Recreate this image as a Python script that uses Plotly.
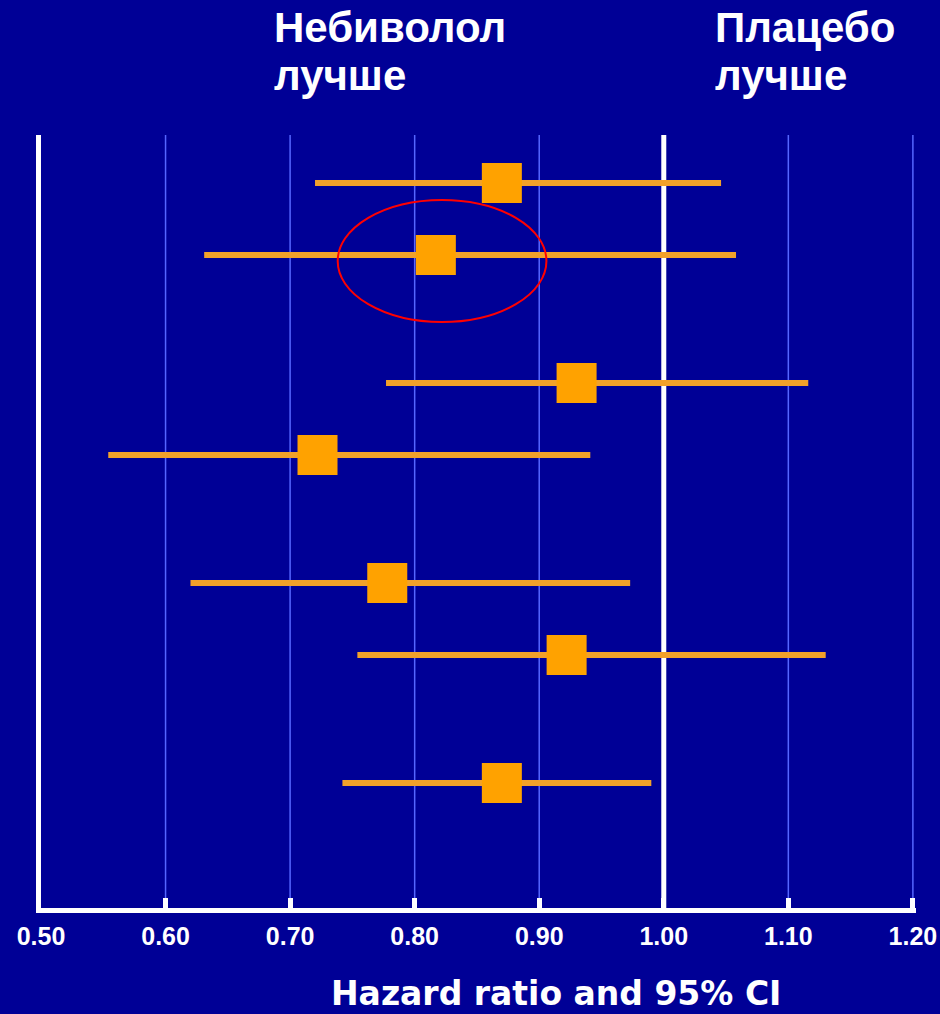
import plotly.graph_objects as go

# Subgroup hazard ratios with 95% confidence intervals
group = [0, 0, 1, 1, 2, 2, 3]      # subgroup block (pairs, then overall)
member = [0, 1, 0, 1, 0, 1, 0]     # row within the block
hr_est = [0.870, 0.817, 0.930, 0.722, 0.778, 0.922, 0.870]
ci_low = [0.720, 0.631, 0.777, 0.554, 0.620, 0.754, 0.742]
ci_high = [1.046, 1.058, 1.116, 0.941, 0.973, 1.130, 0.990]
highlight_row = 1
no_effect = 1.0

tick_vals = [0.5, 0.6, 0.7, 0.8, 0.9, 1.0, 1.1, 1.2]
tick_text = ["0.50", "0.60", "0.70", "0.80", "0.90", "1.00", "1.10", "1.20"]

BLOCK_GAP = 2.0
ROW_GAP = 0.72
row_y = [g * BLOCK_GAP + m * ROW_GAP for g, m in zip(group, member)]

BG = "#000096"
ORANGE_LINE = "#F2A12A"
ORANGE_BOX = "#FFA200"
GRID = "#5566FF"

# confidence interval segments, separated by gaps
seg_x, seg_y = [], []
for lo, hi, y in zip(ci_low, ci_high, row_y):
    seg_x += [lo, hi, None]
    seg_y += [y, y, None]

fig = go.Figure()

# thin vertical guides at each tick (the no-effect line is drawn separately)
for v in tick_vals[1:]:
    if v == no_effect:
        continue
    fig.add_shape(type="line", xref="x", yref="paper", x0=v, x1=v, y0=0, y1=1,
                  line=dict(color=GRID, width=1.5), layer="below")

# line of no effect
fig.add_shape(type="line", xref="x", yref="paper", x0=no_effect, x1=no_effect, y0=0, y1=1,
              line=dict(color="white", width=5), layer="below")

fig.add_trace(go.Scatter(
    x=seg_x, y=seg_y, mode="lines",
    line=dict(color=ORANGE_LINE, width=6),
    hoverinfo="skip", showlegend=False,
))
fig.add_trace(go.Scatter(
    x=hr_est, y=row_y, mode="markers",
    marker=dict(symbol="square", size=40, color=ORANGE_BOX, line=dict(width=0)),
    showlegend=False,
))

# highlight ring around the selected subgroup
cx = hr_est[highlight_row] + 0.005
cy = row_y[highlight_row] + 0.06
fig.add_shape(type="circle", xref="x", yref="y",
              x0=cx - 0.0838, x1=cx + 0.0838, y0=cy - 0.61, y1=cy + 0.61,
              line=dict(color="#FF0000", width=2), layer="above")

bold = dict(family="Liberation Sans, Arial, sans-serif", color="white", size=42, weight="bold")
labels = [
    (0.2637, 1.1395, "Небиволол"),
    (0.2637, 1.0765, "лучше"),
    (0.7675, 1.1395, "Плацебо"),
    (0.7675, 1.0765, "лучше"),
]
for x, y, t in labels:
    fig.add_annotation(x=x, y=y, xref="paper", yref="paper", text=t, showarrow=False,
                       xanchor="left", yanchor="middle", font=bold)

fig.add_annotation(x=0.588, y=-0.110, xref="paper", yref="paper",
                   text="Hazard ratio and 95% CI", showarrow=False,
                   xanchor="center", yanchor="middle",
                   font=dict(family="DejaVu Sans, sans-serif", size=33, color="white", weight="bold"))

fig.update_layout(
    width=940, height=1014,
    margin=dict(l=41, r=24, t=135, b=106, pad=0),
    paper_bgcolor=BG, plot_bgcolor=BG,
    xaxis=dict(
        range=[0.5, 1.2025], tickvals=tick_vals, ticktext=tick_text,
        automargin=False, ticklabeloverflow="allow",
        showgrid=False, zeroline=False,
        showline=True, linecolor="white", linewidth=5,
        ticks="inside", ticklen=10, tickwidth=5, tickcolor="white",
        ticklabelstandoff=2,
        tickfont=dict(family="Liberation Sans, Arial, sans-serif", size=25, color="white", weight="bold"),
        fixedrange=True,
    ),
    yaxis=dict(
        range=[7.25, -0.48], automargin=False,
        showgrid=False, zeroline=False, showticklabels=False,
        showline=True, linecolor="white", linewidth=5, ticks="", fixedrange=True,
    ),
)

fig.write_html("out.html")
